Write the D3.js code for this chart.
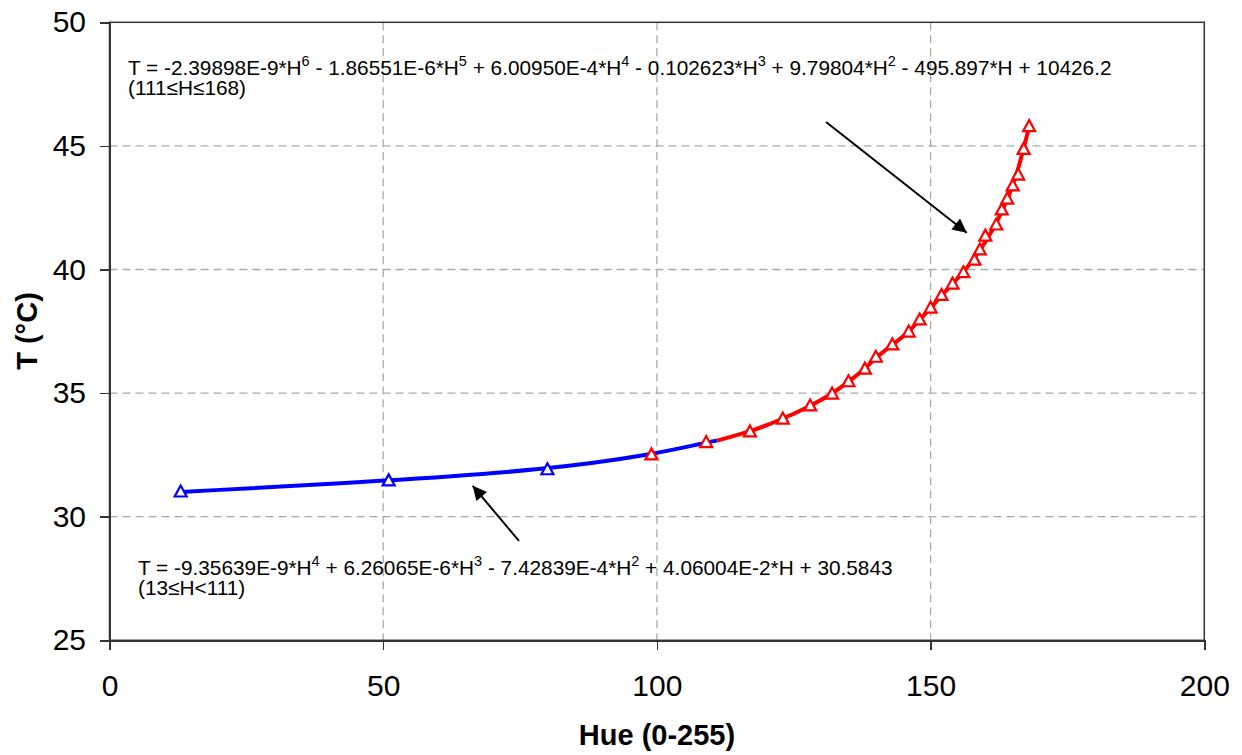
<!DOCTYPE html>
<html>
  <head>
    <meta charset="utf-8">
    <title>Hue vs Temperature</title>
    <script src="https://cdn.jsdelivr.net/npm/d3@7"></script>
    <style>
      body { margin: 0; background: #fff; }
      .axis text {
        font-family: 'Liberation Sans', Arial, sans-serif;
        font-size: 30px;
        fill: #000;
      }
      .axis path, .axis line {
        stroke: #333;
        stroke-width: 1.5;
        shape-rendering: crispEdges;
      }
      .grid line {
        stroke: #aaa;
        stroke-width: 1.3;
        stroke-dasharray: 8, 5;
      }
      .label {
        font-family: 'Liberation Sans', Arial, sans-serif;
        font-size: 29px;
        font-weight: bold;
        text-anchor: middle;
      }
      .formula {
        font-family: 'Liberation Sans', Arial, sans-serif;
        font-size: 20.8px;
        fill: #000;
      }
    </style>
  </head>
  <body>
    <script>

      // markers
      var blueHue = [13, 51, 80];
      var blueT   = [31.0, 31.45, 31.9];

      var redHue = [99, 109, 117, 123, 128, 132, 135, 138, 140, 143, 146, 148, 150,
                    152, 154, 156, 158, 159, 160, 162, 163, 164, 165, 166, 167, 168];
      var redT   = [32.5, 33.0, 33.43, 33.95, 34.48, 34.96, 35.46, 35.97, 36.45, 36.95,
                    37.47, 37.96, 38.44, 38.95, 39.41, 39.87, 40.38, 40.79, 41.35, 41.8,
                    42.41, 42.85, 43.38, 43.82, 44.86, 45.78];

      // fitted curves (blue below H=111, red above)
      var lowFitHue  = [13, 51, 80, 99, 109, 111];
      var lowFitT    = [31.0, 31.45, 31.9, 32.5, 33.0, 33.08];
      var highFitHue = [111, 117, 123, 128, 132, 135, 138, 140, 143, 146, 148, 150,
                        152, 154, 156, 158, 160, 162, 164, 166, 168];
      var highFitT   = [33.08, 33.43, 33.95, 34.48, 34.96, 35.46, 35.97, 36.45, 36.95,
                        37.47, 37.96, 38.44, 38.95, 39.41, 39.9, 40.45, 41.1, 41.85,
                        42.8, 44.0, 45.78];

      var xTicks = [0, 50, 100, 150, 200];
      var yTicks = [25, 30, 35, 40, 45, 50];

      var outerWidth = 1242;
      var outerHeight = 755;
      var margin = { left: 109.5, top: 22.3, right: 37.7, bottom: 114.7 };
      var innerWidth  = outerWidth  - margin.left - margin.right;
      var innerHeight = outerHeight - margin.top  - margin.bottom;

      var svg = d3.select("body").append("svg")
        .attr("width",  outerWidth)
        .attr("height", outerHeight);

      var g = svg.append("g")
        .attr("transform", "translate(" + margin.left + "," + margin.top + ")");

      var xScale = d3.scaleLinear().domain([0, 200]).range([0, innerWidth]);
      var yScale = d3.scaleLinear().domain([25, 50]).range([innerHeight, 0]);

      // grid
      var grid = g.append("g").attr("class", "grid");
      grid.selectAll(".vx").data(xTicks.slice(1, -1)).enter().append("line")
        .attr("x1", function(d) { return xScale(d); })
        .attr("x2", function(d) { return xScale(d); })
        .attr("y1", 0).attr("y2", innerHeight);
      grid.selectAll(".hy").data(yTicks.slice(1, -1)).enter().append("line")
        .attr("y1", function(d) { return yScale(d); })
        .attr("y2", function(d) { return yScale(d); })
        .attr("x1", 0).attr("x2", innerWidth);

      // frame
      g.append("rect")
        .attr("width", innerWidth).attr("height", innerHeight)
        .attr("fill", "none").attr("stroke", "#333").attr("stroke-width", 1.5);

      var xAxisG = g.append("g")
        .attr("class", "x axis")
        .attr("transform", "translate(0," + innerHeight + ")")
        .call(d3.axisBottom(xScale).tickValues(xTicks).tickSize(10).tickPadding(24));
      var yAxisG = g.append("g")
        .attr("class", "y axis")
        .call(d3.axisLeft(yScale).tickValues(yTicks).tickSize(9.5).tickPadding(14));

      // fit lines
      function pairs(xs, ys) { return xs.map(function(x, i) { return [x, ys[i]]; }); }

      var line = d3.line()
        .x(function(d) { return xScale(d[0]); })
        .y(function(d) { return yScale(d[1]); })
        .curve(d3.curveBasis);

      g.append("path").datum(pairs(lowFitHue, lowFitT))
        .attr("d", line).attr("fill", "none")
        .attr("stroke", "#0000ff").attr("stroke-width", 4);
      g.append("path").datum(pairs(highFitHue, highFitT))
        .attr("d", line).attr("fill", "none")
        .attr("stroke", "#ff0000").attr("stroke-width", 4);

      // triangle markers
      var tri = "M0,-6.5L6,4.5L-6,4.5Z";
      function markers(data, color) {
        g.append("g").selectAll("path").data(data).enter().append("path")
          .attr("d", tri)
          .attr("transform", function(d) {
            return "translate(" + xScale(d[0]) + "," + yScale(d[1]) + ")";
          })
          .attr("fill", "#fff")
          .attr("stroke", color)
          .attr("stroke-width", 2.2);
      }
      markers(pairs(blueHue, blueT), "#0000ff");
      markers(pairs(redHue, redT), "#ff0000");

      // arrows
      svg.append("defs").append("marker")
        .attr("id", "head")
        .attr("viewBox", "0 0 10 10")
        .attr("refX", 10).attr("refY", 5)
        .attr("markerWidth", 8).attr("markerHeight", 7)
        .attr("markerUnits", "strokeWidth")
        .attr("orient", "auto")
        .append("path").attr("d", "M0,0L10,5L0,10Z").attr("fill", "#000");

      function arrow(x1, y1, x2, y2) {
        g.append("line")
          .attr("x1", xScale(x1)).attr("y1", yScale(y1))
          .attr("x2", xScale(x2)).attr("y2", yScale(y2))
          .attr("stroke", "#000").attr("stroke-width", 2)
          .attr("marker-end", "url(#head)");
      }
      arrow(130.9, 45.97, 156.6, 41.49);
      arrow(74.8, 29.02, 66.35, 31.25);

      // formula labels; a one-item array is a superscript
      function formula(x, y, parts) {
        var t = svg.append("text").attr("class", "formula")
          .attr("x", x).attr("y", y);
        var shift = 0;
        parts.forEach(function(p) {
          if (typeof p === "string") {
            t.append("tspan").attr("dy", shift).text(p);
            shift = 0;
          } else {
            shift = 9;
            t.append("tspan").attr("dy", -shift).attr("font-size", 14.5).text(p[0]);
          }
        });
        return t;
      }

      formula(128, 75, ["T = -2.39898E-9*H", ["6"], " - 1.86551E-6*H", ["5"],
        " + 6.00950E-4*H", ["4"], " - 0.102623*H", ["3"], " + 9.79804*H", ["2"],
        " - 495.897*H + 10426.2"]);
      formula(128, 94.5, ["(111\u2264H\u2264168)"]);

      formula(138, 575, ["T = -9.35639E-9*H", ["4"], " + 6.26065E-6*H", ["3"],
        " - 7.42839E-4*H", ["2"], " + 4.06004E-2*H + 30.5843"]);
      formula(138, 594.5, [" (13\u2264H<111)"]);

      // axis titles
      svg.append("text").attr("class", "label")
        .attr("x", 657).attr("y", 745)
        .text("Hue (0-255)");
      svg.append("text").attr("class", "label")
        .attr("transform", "translate(37,331) rotate(-90)")
        .text("T (\u00b0C)");

    </script>
  </body>
</html>
